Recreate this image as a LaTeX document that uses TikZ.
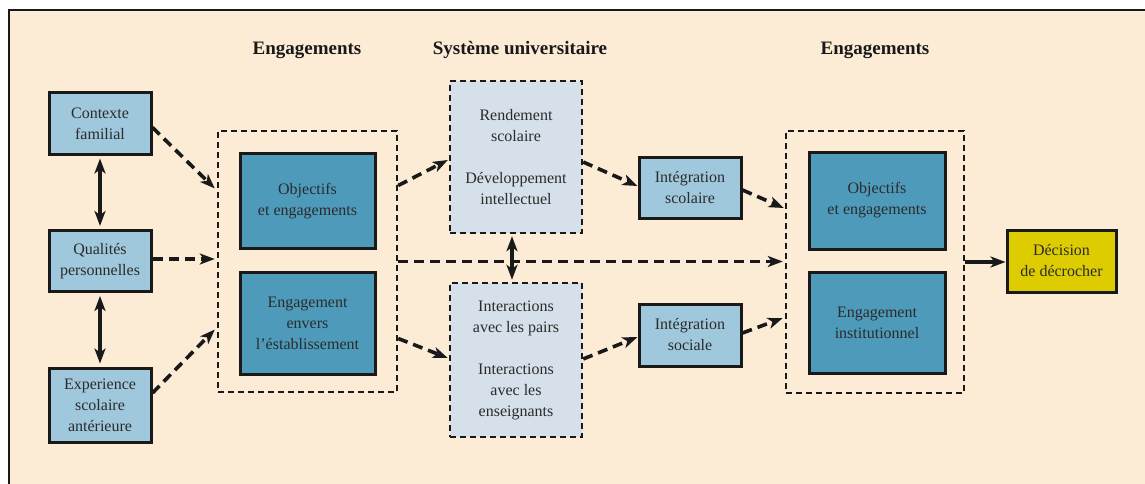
\documentclass[tikz,border=0pt]{standalone}
\usepackage{fontspec}
\setmainfont{Liberation Serif}
\usetikzlibrary{arrows.meta,calc}
\definecolor{bg}{HTML}{FCECD6}
\definecolor{lblue}{HTML}{A0C8DC}
\definecolor{dblue}{HTML}{4E9ABA}
\definecolor{gblue}{HTML}{D5E0EA}
\definecolor{yel}{HTML}{DDCC00}
\definecolor{txt}{HTML}{2B2B2B}
\begin{document}
\begin{tikzpicture}[x=1pt,y=-1pt,
  every node/.style={font=\fontsize{16}{21}\selectfont, text=txt, align=center, inner sep=0pt},
  solidbox/.style={draw=black!90, line width=3pt},
  lightbox/.style={solidbox, fill=lblue},
  darkbox/.style={solidbox, fill=dblue},
  yelbox/.style={solidbox, fill=yel},
  groupbox/.style={draw=black!90, line width=2.4pt, dash pattern=on 6pt off 4pt},
  grayboxstyle/.style={groupbox, fill=gblue},
  title/.style={font=\fontsize{19}{22}\selectfont\bfseries, text=black!90},
  tip/.style={-{Stealth[length=15pt,width=11pt,inset=4pt]}},
  dtip/.style={{Stealth[length=15pt,width=11pt,inset=4pt]}-{Stealth[length=15pt,width=11pt,inset=4pt]}},
  darrow/.style={tip, line width=3.6pt, draw=black!90, dash pattern=on 10pt off 6pt},
  sarrow/.style={tip, line width=3.6pt, draw=black!90},
  biarrow/.style={dtip, line width=3.6pt, draw=black!90},
]
\useasboundingbox (0,0) rectangle (1145,484);
\clip (0,0) rectangle (1145,484);
\fill[white] (0,0) rectangle (1145,484);
\draw[fill=bg, line width=2.4pt, draw=black!90] (9,10) rectangle (1160,500);

% titles
\node[title] (t1) at (307,50) {Engagements};
\node[title] (t2) at (520,50) {Système universitaire};
\node[title] (t3) at (875,50) {Engagements};

% group boxes
\node[groupbox, minimum width=179pt, minimum height=261pt] (lbox) at (307.5,261.5) {};
\node[groupbox, minimum width=178pt, minimum height=262pt] (rbox) at (875,262) {};

% left column
\node[lightbox, minimum width=102pt, minimum height=61pt] (ctx) at (100,123.5) {Contexte\\familial};
\node[lightbox, minimum width=102pt, minimum height=61pt] (qual) at (100,261) {Qualités\\personnelles};
\node[lightbox, minimum width=102pt, minimum height=74pt] (exp) at (100,405) {Experience\\scolaire\\antérieure};

% left group
\node[darkbox, minimum width=135pt, minimum height=95pt] (obj1) at (307.5,201) {Objectifs\\et engagements};
\node[darkbox, minimum width=135pt, minimum height=102pt] (eng1) at (307.5,323) {Engagement\\envers\\l’éstablissement};

% university system
\node[grayboxstyle, minimum width=132pt, minimum height=152pt] (rend) at (516,157) {Rendement\\scolaire\\[21pt]Développement\\intellectuel};
\node[grayboxstyle, minimum width=132pt, minimum height=154pt] (inter) at (516,360) {Interactions\\avec les pairs\\[21pt]Interactions\\avec les\\enseignants};

% integration
\node[lightbox, minimum width=102pt, minimum height=61pt] (isco) at (690,187.5) {Intégration\\scolaire};
\node[lightbox, minimum width=102pt, minimum height=62pt] (isoc) at (690,335) {Intégration\\sociale};

% right group
\node[darkbox, minimum width=136pt, minimum height=97pt] (obj2) at (877,200.5) {Objectifs\\et engagements};
\node[darkbox, minimum width=136pt, minimum height=101pt] (eng2) at (877,322.5) {Engagement\\institutionnel};

% decision
\node[yelbox, minimum width=109pt, minimum height=62pt] (dec) at (1061.5,261) {Décision\\de décrocher};

% vertical double arrows
\draw[biarrow, shorten <=3pt, shorten >=3pt] (ctx.south) -- (qual.north);
\draw[biarrow, shorten <=3pt, shorten >=3pt] (qual.south) -- (exp.north);
\draw[biarrow, shorten <=2pt, shorten >=2pt] ([xshift=-4pt]rend.south) -- ([xshift=-4pt]inter.north);

% arrows into left group
\draw[darrow] ([yshift=-4pt]ctx.east) -- ([xshift=-2pt,yshift=73pt]lbox.west);
\draw[darrow] ([yshift=2pt]qual.east) -- ([xshift=-2pt,yshift=2.5pt]lbox.west);
\draw[darrow] ([yshift=12pt]exp.east) -- ([xshift=-2pt,yshift=-68pt]lbox.west);

% from left group
\draw[darrow] ([yshift=76pt]lbox.east) -- ([xshift=-1pt,yshift=-3pt]rend.west);
\draw[darrow] ([yshift=-77pt]lbox.east) -- ([xshift=-1pt,yshift=2pt]inter.west);
\draw[darrow] (lbox.east) -- ([xshift=-2pt]lbox.east -| rbox.west);

% to integration
\draw[darrow] ([yshift=-5pt]rend.east) -- ([yshift=1.5pt]isco.west);
\draw[darrow] ([yshift=1pt]inter.east) -- ([yshift=-2pt]isoc.west);

% to right group
\draw[darrow] ([yshift=-2.5pt]isco.east) -- ([xshift=-1pt,yshift=54pt]rbox.west);
\draw[darrow] ([yshift=2pt]isoc.east) -- ([xshift=-2pt,yshift=-56pt]rbox.west);

% to decision
\draw[sarrow] (rbox.east) -- (rbox.east -| dec.west);
\end{tikzpicture}
\end{document}
